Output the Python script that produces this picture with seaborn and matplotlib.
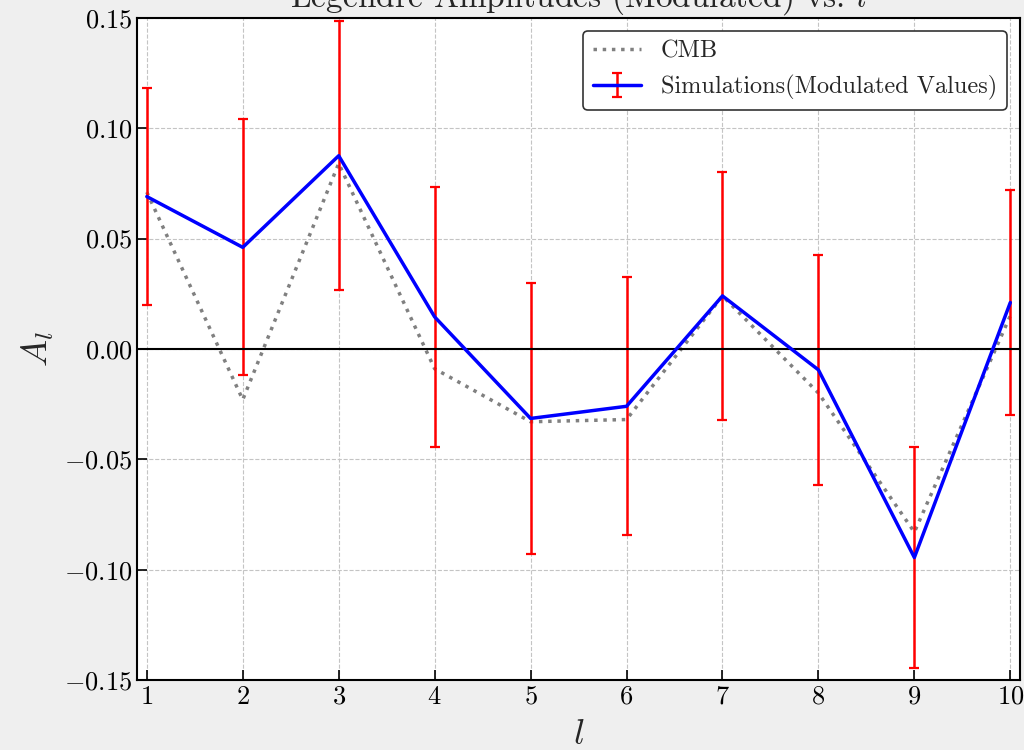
import numpy as np
import pandas as pd
import seaborn as sns
import matplotlib.pyplot as plt

ells = [1, 2, 3, 4, 5, 6, 7, 8, 9, 10]
cmb = [0.071, -0.023, 0.084, -0.009, -0.033, -0.032, 0.024, -0.020, -0.083, 0.015]
sim = [0.069, 0.046, 0.0875, 0.0145, -0.0315, -0.026, 0.024, -0.0095, -0.0945, 0.021]
sim_err = [0.049, 0.058, 0.061, 0.059, 0.0615, 0.0585, 0.056, 0.052, 0.050, 0.051]

sns.set_style("whitegrid", {"grid.linestyle": "--", "grid.color": "#c4c4c4"})
plt.rcParams["font.family"] = "serif"
plt.rcParams["font.serif"] = ["cmr10"]
plt.rcParams["mathtext.fontset"] = "cm"
plt.rcParams["axes.formatter.use_mathtext"] = True

df = pd.DataFrame({"l": ells, "cmb": cmb})

fig = plt.figure(figsize=(10.24, 7.5), dpi=100, facecolor="#efefef")
ax = fig.add_axes([0.134, 0.0933, 0.862, 0.883])

sns.lineplot(data=df, x="l", y="cmb", ax=ax, color="gray", linestyle=":",
             linewidth=2.5, label="CMB")
ax.errorbar(ells, sim, yerr=sim_err, color="blue", ecolor="red", linewidth=2.5,
            elinewidth=1.8, capsize=3.5, capthick=1.6,
            label="Simulations(Modulated Values)")
ax.axhline(0, color="black", linewidth=1.5)

ax.set_xlim(0.9, 10.1)
ax.set_ylim(-0.15, 0.15)
ax.set_xticks(ells)
ax.set_yticks([-0.15, -0.10, -0.05, 0.0, 0.05, 0.10, 0.15])
ax.set_yticklabels(["$-0.15$", "$-0.10$", "$-0.05$", "$0.00$", "$0.05$", "$0.10$", "$0.15$"])
ax.set_xticklabels([f"${v}$" for v in ells])
ax.tick_params(direction="in", length=7, width=1.2, labelsize=19, colors="black",
               left=True, bottom=True)
for s in ax.spines.values():
    s.set_color("black")
    s.set_linewidth(1.5)

ax.set_xlabel("$l$", fontsize=26, labelpad=8)
ax.set_ylabel("$A_l$", fontsize=26, labelpad=6)
ax.set_title("Legendre Amplitudes (Modulated) vs. $l$", fontsize=24, pad=8)

leg = ax.legend(loc="upper right", fontsize=17.5, frameon=True, framealpha=1,
                edgecolor="#333333", fancybox=True, borderaxespad=0.55)
leg.get_frame().set_linewidth(1.2)

fig.savefig("out.png", dpi=100, facecolor=fig.get_facecolor())
